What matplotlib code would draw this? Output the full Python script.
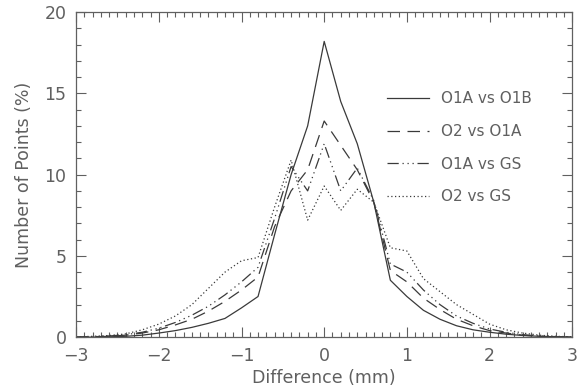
import matplotlib
matplotlib.use("Agg")
import matplotlib.pyplot as plt
from matplotlib.ticker import MultipleLocator

# histogram bins (mm)
diff_mm = [-3.0, -2.8, -2.6, -2.4, -2.2, -2.0, -1.8, -1.6, -1.4, -1.2, -1.0,
           -0.8, -0.6, -0.4, -0.2, 0.0, 0.2, 0.4, 0.6, 0.8, 1.0,
           1.2, 1.4, 1.6, 1.8, 2.0, 2.2, 2.4, 2.6, 2.8, 3.0]

o1a_vs_o1b = [0.0, 0.0, 0.02, 0.05, 0.12, 0.25, 0.4, 0.6, 0.85, 1.15, 1.8,
              2.5, 6.3, 10.0, 13.0, 18.2, 14.5, 11.9, 8.3, 3.5, 2.5,
              1.65, 1.1, 0.7, 0.45, 0.3, 0.18, 0.1, 0.05, 0.02, 0.0]
o2_vs_o1a = [0.0, 0.02, 0.05, 0.12, 0.25, 0.45, 0.75, 1.1, 1.6, 2.2, 2.9,
             3.7, 6.8, 9.0, 10.3, 13.3, 11.8, 10.3, 8.3, 4.1, 3.4,
             2.4, 1.7, 1.1, 0.7, 0.4, 0.25, 0.12, 0.05, 0.02, 0.0]
o1a_vs_gs = [0.0, 0.03, 0.07, 0.15, 0.3, 0.55, 0.9, 1.35, 1.9, 2.6, 3.4,
             4.3, 7.3, 10.5, 9.0, 11.9, 9.0, 10.4, 8.4, 4.5, 4.0,
             2.9, 2.0, 1.3, 0.85, 0.5, 0.3, 0.15, 0.07, 0.03, 0.0]
o2_vs_gs = [0.02, 0.05, 0.1, 0.2, 0.45, 0.8, 1.3, 2.0, 3.0, 4.0, 4.7,
            4.9, 8.0, 10.9, 7.2, 9.3, 7.8, 9.1, 8.3, 5.5, 5.3,
            3.6, 2.8, 2.0, 1.4, 0.8, 0.45, 0.25, 0.12, 0.05, 0.02]

labels = ["O1A vs O1B", "O2 vs O1A", "O1A vs GS", "O2 vs GS"]
styles = ["-", (0, (10, 6)), (0, (9, 3, 1, 3, 1, 3, 1, 3)), (0, (1, 2))]

ink = "#3a3a3a"
text_col = "#606060"

fig = plt.figure(figsize=(5.81, 3.92), dpi=100)
ax = fig.add_axes([0.131, 0.140, 0.854, 0.829])

for series, label, ls in zip([o1a_vs_o1b, o2_vs_o1a, o1a_vs_gs, o2_vs_gs], labels, styles):
    ax.plot(diff_mm, series, color=ink, lw=0.9, ls=ls, label=label)

ax.set_xlim(-3, 3)
ax.set_ylim(0, 20)
ax.xaxis.set_major_locator(MultipleLocator(1))
ax.xaxis.set_minor_locator(MultipleLocator(0.1))
ax.yaxis.set_major_locator(MultipleLocator(5))
ax.yaxis.set_minor_locator(MultipleLocator(1))
ax.tick_params(which="both", direction="in", top=True, right=True,
               color=text_col, width=0.8, labelsize=12.5, labelcolor=text_col, pad=7)
ax.tick_params(which="major", length=7)
ax.tick_params(which="minor", length=3.5)
for sp in ax.spines.values():
    sp.set_color(text_col)
    sp.set_linewidth(0.9)

ax.set_xlabel("Difference (mm)", fontsize=12.5, color=text_col, labelpad=3)
ax.set_ylabel("Number of Points (%)", fontsize=12.5, color=text_col, labelpad=8)

leg = ax.legend(loc="upper left", bbox_to_anchor=(0.615, 0.775), frameon=False,
                fontsize=11, handlelength=2.7, handletextpad=0.8, labelspacing=1.15,
                borderaxespad=0)
for t in leg.get_texts():
    t.set_color(text_col)

fig.savefig("out.png", dpi=100)
